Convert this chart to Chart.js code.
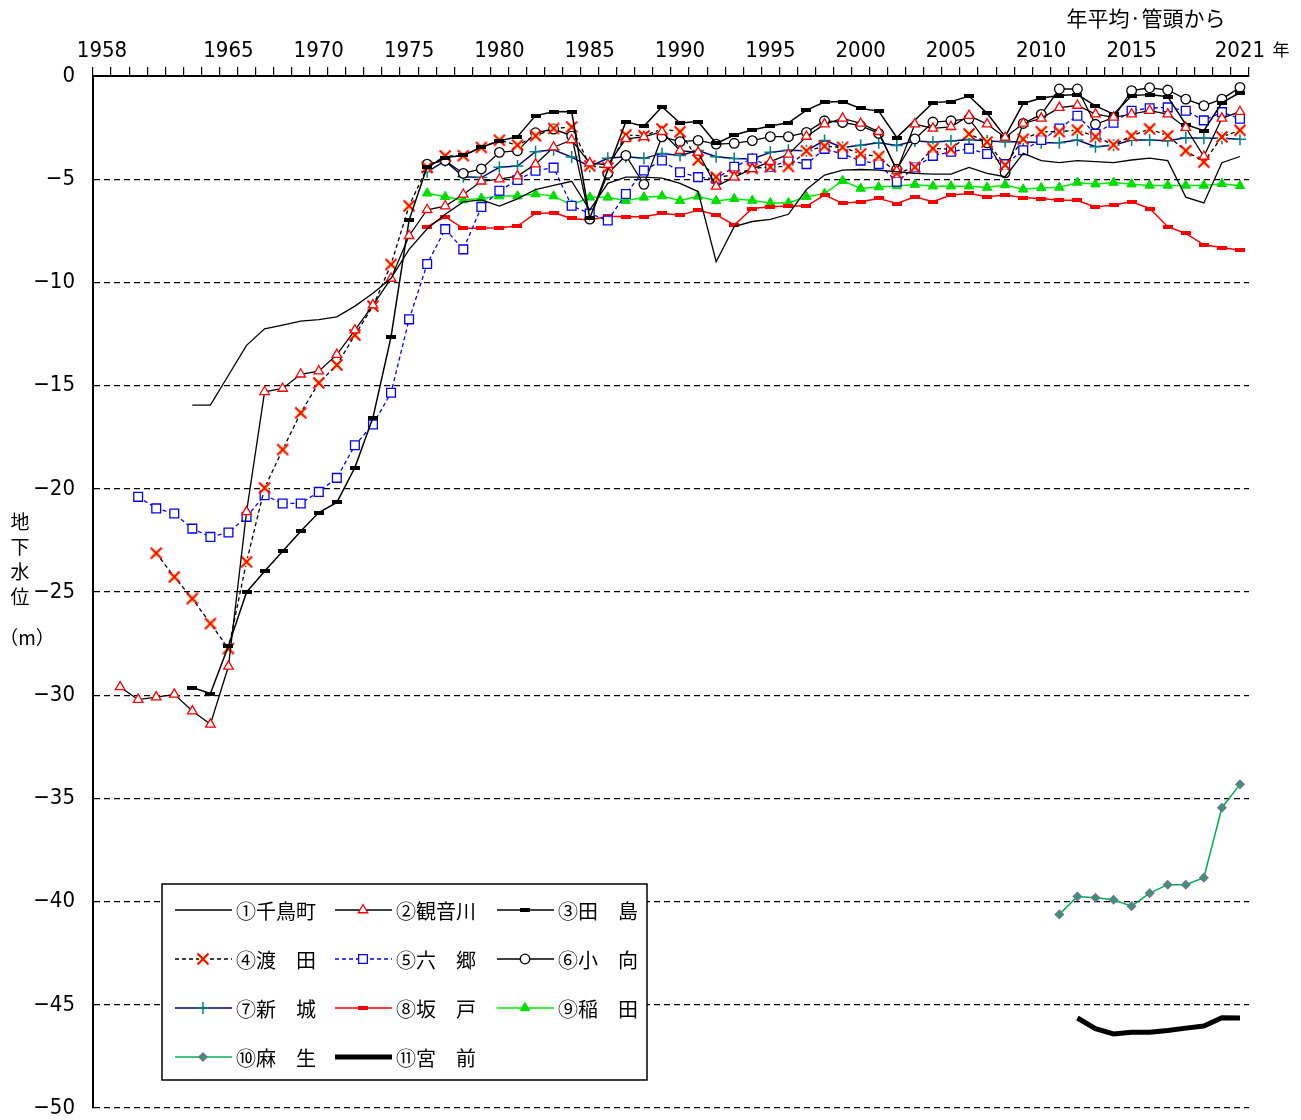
<!DOCTYPE html>
<html>
<head>
<meta charset="utf-8">
<script src="https://cdn.jsdelivr.net/npm/chart.js@4/dist/chart.umd.min.js"></script>
<style>
  body { margin: 0; background: #fff; }
  canvas { display: block; }
</style>
</head>
<body>
<canvas id="myChart" width="1301" height="1120"></canvas>
<script>
// years shown on the top axis
const tickYears = [1958, 1965, 1970, 1975, 1980, 1985, 1990, 1995, 2000, 2005, 2010, 2015, 2021];
const yTitle = ['地', '下', '水', '位'];

// ① 千鳥町 from 1963
const chidoriStart = 1963;
const chidori = [-15.95, -15.95, -14.5, -13.05, -12.25, -12.07, -11.88,
  -11.8, -11.67, -11.15, -10.53, -9.8, -8.4, -7.4, -6.7, -6.1, -6.0,
  -6.3, -5.95, -5.5, -5.3, -5.1, -6.5, -5.2, -4.9, -4.9, -4.95,
  -5.2, -5.6, -9.0, -7.3, -7.05, -6.95, -6.7, -5.5, -4.8, -4.56,
  -4.53, -4.56, -4.64, -4.72, -4.75, -4.75, -4.43, -4.72, -4.88, -3.75,
  -4.1, -4.2, -4.1, -4.15, -4.2, -4.07, -3.98, -4.1, -5.87, -6.15,
  -4.2, -3.9];

// ② 観音川 from 1959
const kannonStart = 1959;
const kannon = [-29.6,
  -30.21, -30.09, -29.96, -30.77, -31.41, -28.6, -21.12, -15.3, -15.14, -14.45,
  -14.3, -13.5, -12.31, -11.1, -9.81, -7.74, -6.48, -6.3, -5.74, -5.1,
  -5.0, -4.85, -4.27, -3.45, -3.1, -4.22, -4.3, -3.05, -2.95, -2.7,
  -3.62, -3.7, -5.35, -4.9, -4.5, -4.15, -3.8, -2.93, -2.33, -2.05,
  -2.3, -2.7, -4.6, -2.33, -2.54, -2.46, -1.92, -2.33, -2.98, -2.3,
  -2.05, -1.53, -1.43, -1.85, -2.0, -1.85, -1.68, -1.85, -2.5, -3.9,
  -2.05, -1.73];

// ③ 田島 from 1963
const tajimaStart = 1963;
const tajima = [-29.63, -29.92, -27.6, -25.01, -23.99, -23.02, -22.06,
  -21.15, -20.66, -18.97, -16.55, -12.64, -6.98, -4.4, -3.95, -3.85, -3.45,
  -3.15, -2.94, -1.92, -1.73, -1.72, -6.9, null, -2.21, -2.44, -1.49,
  -2.28, -2.21, -3.27, -2.86, -2.62, -2.42, -2.27, -1.65, -1.26, -1.24,
  -1.57, -1.7, -2.98, null, -1.29, -1.24, -0.97, -1.81, -2.94, -1.33,
  -1.07, -0.95, -0.9, -1.45, -1.85, -0.95, -0.9, -1.0, -2.35, -2.65,
  -1.3, -0.8];

// ④ 渡田 from 1961
const wataridaStart = 1961;
const watarida = [-23.12, -24.27, -25.32, -26.53, -27.74, -23.54, -19.96, -18.1, -16.32,
  -14.87, -14.0, -12.55, -11.15, -9.13, -6.29, -4.43, -3.87, -3.86, -3.46,
  -3.11, -3.35, -2.9, -2.54, -2.47, -4.35, -4.45, -2.86, -2.9, -2.57,
  -2.7, -4.07, -4.9, -4.8, -4.48, -4.4, -4.38, -3.63, -3.4, -3.45,
  -3.77, -3.9, -4.72, -4.42, -3.51, -3.55, -2.81, -3.2, -4.31, -3.06,
  -2.7, -2.7, -2.62, -2.94, -3.33, -2.9, -2.56, -2.9, -3.62, -4.17,
  -2.95, -2.63];

// ⑤ 六郷 from 1960
const rokugoStart = 1960;
const rokugo = [-20.39, -20.95, -21.2, -21.93, -22.33, -22.12, -21.36, -20.31, -20.71, -20.71,
  -20.15, -19.47, -17.89, -16.88, -15.35, -11.79, -9.11, -7.42, -8.4, -6.35,
  -5.56, -5.04, -4.59, -4.44, -6.29, -6.66, -7.0, -5.72, -4.58, -4.09,
  -4.66, -4.9, -4.98, -4.4, -4.0, -4.4, -4.1, -4.27, -3.53, -3.78,
  -4.1, -4.27, -5.12, -4.43, -3.87, -3.67, -3.52, -3.78, -4.27, -3.6,
  -3.1, -2.54, -1.93, -2.8, -2.26, -1.68, -1.56, -1.52, -1.68, -2.15,
  -1.75, -2.07];

// ⑥ 小向 from 1976
const komukaiStart = 1976;
const komukai = [-4.27, -4.1, -4.72, -4.5,
  -3.7, -3.62, -2.75, -2.57, -2.9, -6.93, -4.72, -3.85, -5.25, -2.95,
  -3.18, -3.12, -3.3, -3.26, -3.13, -2.94, -2.94, -2.73, -2.17, -2.25,
  -2.41, -2.78, -4.52, -3.05, -2.23, -2.17, -2.07, -3.24, -4.69, -2.3,
  -1.86, -0.63, -0.63, -2.34, -2.02, -0.71, -0.57, -0.68, -1.12, -1.44,
  -1.12, -0.55];

// ⑦ 新城 from 1976
const shinjoStart = 1976;
const shinjo = [-4.64, -4.11, -4.88, -4.92,
  -4.42, -4.36, -3.67, -3.57, -3.93, -4.38, -3.99, -3.91, -3.99, -3.75,
  -3.85, -3.61, -3.91, -4.0, -4.02, -3.7, -3.6, -3.62, -3.12, -3.46,
  -3.35, -3.23, -3.37, -3.15, -3.2, -3.15, -3.08, -3.15, -3.18, -3.18,
  -3.23, -3.23, -3.1, -3.43, -3.35, -3.1, -3.1, -3.14, -2.99, -3.02,
  -3.02, -3.06];

// ⑧ 坂戸 from 1976
const sakadoStart = 1976;
const sakado = [-7.3, -6.82, -7.38, -7.38,
  -7.35, -7.27, -6.66, -6.63, -6.9, -6.98, -6.79, -6.82, -6.82, -6.66,
  -6.74, -6.5, -6.72, -7.22, -6.42, -6.33, -6.3, -6.3, -5.77, -6.17,
  -6.09, -5.93, -6.18, -5.85, -6.09, -5.77, -5.69, -5.85, -5.77, -5.89,
  -5.95, -6.01, -6.03, -6.35, -6.25, -6.09, -6.42, -7.3, -7.63, -8.18,
  -8.31, -8.44];

// ⑨ 稲田 from 1976
const inadaStart = 1976;
const inada = [-5.68, -5.85, -6.01, -5.93,
  -5.82, -5.82, -5.72, -5.82, -6.25, -5.88, -5.88, -6.04, -5.88, -5.82,
  -6.04, -5.83, -6.05, -5.95, -6.03, -6.15, -6.15, -5.85, -5.7, -5.07,
  -5.45, -5.38, -5.33, -5.26, -5.34, -5.34, -5.34, -5.4, -5.28, -5.49,
  -5.42, -5.4, -5.16, -5.24, -5.16, -5.24, -5.3, -5.3, -5.3, -5.3,
  -5.22, -5.32];

// ⑩ 麻生 from 2011
const asaoStart = 2011;
const asao = [-40.62, -39.75, -39.81, -39.91, -40.22, -39.59, -39.18, -39.18, -38.84, -35.45, -34.32];

// ⑪ 宮前 from 2012
const miyamaeStart = 2012;
const miyamae = [-45.64, -46.16, -46.41, -46.33, -46.33, -46.24, -46.13, -46.03, -45.63, -45.64];

const numFont = '"DejaVu Sans Condensed", "Liberation Sans", sans-serif';
const jpFont = '"Noto Sans CJK JP", sans-serif';

function pts(start, arr) {
    return arr.map((v, i) => ({ x: start + i, y: v }));
}

// small canvas markers (excel style)
function dashMark(color) {
    const c = document.createElement('canvas');
    c.width = 10; c.height = 4;
    const g = c.getContext('2d');
    g.fillStyle = color;
    g.fillRect(0, 0, 10, 4);
    return c;
}
function xMark() {
    const c = document.createElement('canvas');
    c.width = 14; c.height = 14;
    const g = c.getContext('2d');
    g.fillStyle = '#ffff99';
    g.fillRect(3, 3, 8, 8);
    g.strokeStyle = '#ff0000';
    g.lineWidth = 2;
    g.beginPath();
    g.moveTo(1.5, 1.5); g.lineTo(12.5, 12.5);
    g.moveTo(12.5, 1.5); g.lineTo(1.5, 12.5);
    g.stroke();
    return c;
}

const datasets = [
    { label: '①千鳥町', data: pts(chidoriStart, chidori), borderColor: '#000', borderWidth: 1.3, pointRadius: 0 },
    { label: '②観音川', data: pts(kannonStart, kannon), borderColor: '#000', borderWidth: 1.3,
      pointStyle: 'triangle', pointRadius: 5.5, pointBackgroundColor: '#fff', pointBorderColor: '#ff0000', pointBorderWidth: 1.3 },
    { label: '③田　島', data: pts(tajimaStart, tajima), borderColor: '#000', borderWidth: 1.5,
      pointStyle: dashMark('#000'), pointRadius: 5, pointBackgroundColor: '#000', pointBorderColor: '#000', pointBorderWidth: 1 },
    { label: '④渡　田', data: pts(wataridaStart, watarida), borderColor: '#000', borderWidth: 1.3, borderDash: [4, 3],
      pointStyle: xMark(), pointRadius: 6, pointBackgroundColor: '#ffff99', pointBorderColor: '#ff0000', pointBorderWidth: 1 },
    { label: '⑤六　郷', data: pts(rokugoStart, rokugo), borderColor: '#0000ff', borderWidth: 1.3, borderDash: [4, 3],
      pointStyle: 'rect', pointRadius: 6.2, pointBackgroundColor: '#fff', pointBorderColor: '#0000ff', pointBorderWidth: 1.3 },
    { label: '⑥小　向', data: pts(komukaiStart, komukai), borderColor: '#000', borderWidth: 1.3,
      pointStyle: 'circle', pointRadius: 4.8, pointBackgroundColor: '#fff', pointBorderColor: '#000', pointBorderWidth: 1.3 },
    { label: '⑦新　城', data: pts(shinjoStart, shinjo), borderColor: '#000080', borderWidth: 1.5,
      pointStyle: 'cross', pointRadius: 6, pointBackgroundColor: '#008080', pointBorderColor: '#008080', pointBorderWidth: 1.5 },
    { label: '⑧坂　戸', data: pts(sakadoStart, sakado), borderColor: '#ff0000', borderWidth: 1.5,
      pointStyle: dashMark('#ff0000'), pointRadius: 5, pointBackgroundColor: '#ff0000', pointBorderColor: '#ff0000', pointBorderWidth: 1 },
    { label: '⑨稲　田', data: pts(inadaStart, inada), borderColor: '#00ee00', borderWidth: 1.5,
      pointStyle: 'triangle', pointRadius: 5.5, pointBackgroundColor: '#00dd00', pointBorderColor: '#00dd00', pointBorderWidth: 1 },
    { label: '⑩麻　生', data: pts(asaoStart, asao), borderColor: '#00b050', borderWidth: 1.5,
      pointStyle: 'rectRot', pointRadius: 4.2, pointBackgroundColor: '#2e9e5e', pointBorderColor: '#8068a8', pointBorderWidth: 1.2 },
    { label: '⑪宮　前', data: pts(miyamaeStart, miyamae), borderColor: '#000', borderWidth: 5, pointRadius: 0 }
];

// boxed legend in the lower left of the plot
const boxLegend = {
    id: 'boxLegend',
    afterDraw(chart) {
        const ctx = chart.ctx;
        const bx = 162, by = 884, bw = 485, bh = 196;
        const colX = [175, 335, 497];
        const rowY = [910, 959, 1008, 1057];
        ctx.save();
        ctx.fillStyle = '#fff';
        ctx.fillRect(bx, by, bw, bh);
        ctx.strokeStyle = '#000';
        ctx.lineWidth = 1.5;
        ctx.strokeRect(bx, by, bw, bh);
        chart.data.datasets.forEach((ds, i) => {
            const cx = colX[i % 3], cy = rowY[Math.floor(i / 3)];
            ctx.strokeStyle = ds.borderColor;
            ctx.lineWidth = ds.borderWidth;
            ctx.setLineDash(ds.borderDash || []);
            ctx.beginPath();
            ctx.moveTo(cx, cy);
            ctx.lineTo(cx + 57, cy);
            ctx.stroke();
            ctx.setLineDash([]);
            if (ds.pointRadius > 0) {
                ctx.fillStyle = ds.pointBackgroundColor;
                ctx.strokeStyle = ds.pointBorderColor;
                ctx.lineWidth = ds.pointBorderWidth;
                Chart.helpers.drawPoint(ctx, { pointStyle: ds.pointStyle, radius: ds.pointRadius, rotation: 0, borderWidth: ds.pointBorderWidth }, cx + 28, cy);
            }
            ctx.fillStyle = '#000';
            ctx.font = '20px ' + jpFont;
            ctx.textAlign = 'left';
            ctx.textBaseline = 'middle';
            ctx.fillText(ds.label, cx + 61, cy + 1);
        });
        ctx.restore();
    }
};

// axis title and notes
const notes = {
    id: 'notes',
    afterDraw(chart) {
        const ctx = chart.ctx;
        ctx.save();
        ctx.fillStyle = '#000';
        ctx.textAlign = 'center';
        ctx.textBaseline = 'middle';
        ctx.font = '19px ' + jpFont;
        yTitle.forEach((ch, i) => ctx.fillText(ch, 20, 522 + i * 25));
        ctx.fillText('（m）', 27, 638);
        ctx.font = '21px ' + jpFont;
        ctx.fillText('年平均·管頭から', 1146, 18);
        ctx.font = '17px ' + jpFont;
        ctx.fillText('年', 1281, 50);
        ctx.restore();
    }
};

const ctx = document.getElementById('myChart').getContext('2d');

const myChart = new Chart(ctx, {
    type: 'line',
    data: { datasets: datasets },
    options: {
        responsive: false,
        animation: false,
        events: [],
        spanGaps: true,
        elements: { line: { tension: 0 } },
        layout: { autoPadding: false, padding: { left: 0, right: 52, top: 0, bottom: 12 } },
        plugins: { legend: { display: false }, tooltip: { enabled: false } },
        scales: {
            x: {
                type: 'linear',
                position: 'top',
                min: 1957.5,
                max: 2021.5,
                afterBuildTicks: (s) => {
                    const t = [];
                    for (let v = 1957.5; v <= 2021.5; v++) t.push({ value: v });
                    s.ticks = t;
                },
                afterFit: (s) => { s.height = 76; s.paddingLeft = 0; s.paddingRight = 0; },
                ticks: {
                    autoSkip: false,
                    maxRotation: 0,
                    labelOffset: 9,
                    padding: 3,
                    color: '#000',
                    font: { family: numFont, size: 22 },
                    callback: (v) => tickYears.includes(v + 0.5) ? String(v + 0.5) : ''
                },
                grid: { drawOnChartArea: false, drawTicks: true, tickLength: 9, color: '#000', lineWidth: 1.2 },
                border: { display: true, color: '#000', width: 2 }
            },
            y: {
                min: -50,
                max: 0,
                afterFit: (s) => { s.width = 93; s.paddingTop = 0; s.paddingBottom = 0; },
                ticks: {
                    stepSize: 5,
                    padding: 18,
                    color: '#000',
                    font: { family: numFont, size: 22 },
                    callback: (v) => v === 0 ? '0' : '\u2212' + Math.abs(v)
                },
                grid: { color: '#000', lineWidth: 1.2, drawTicks: false },
                border: { display: true, color: '#000', width: 2, dash: [6, 4] }
            }
        }
    },
    plugins: [boxLegend, notes]
});
</script>
</body>
</html>
